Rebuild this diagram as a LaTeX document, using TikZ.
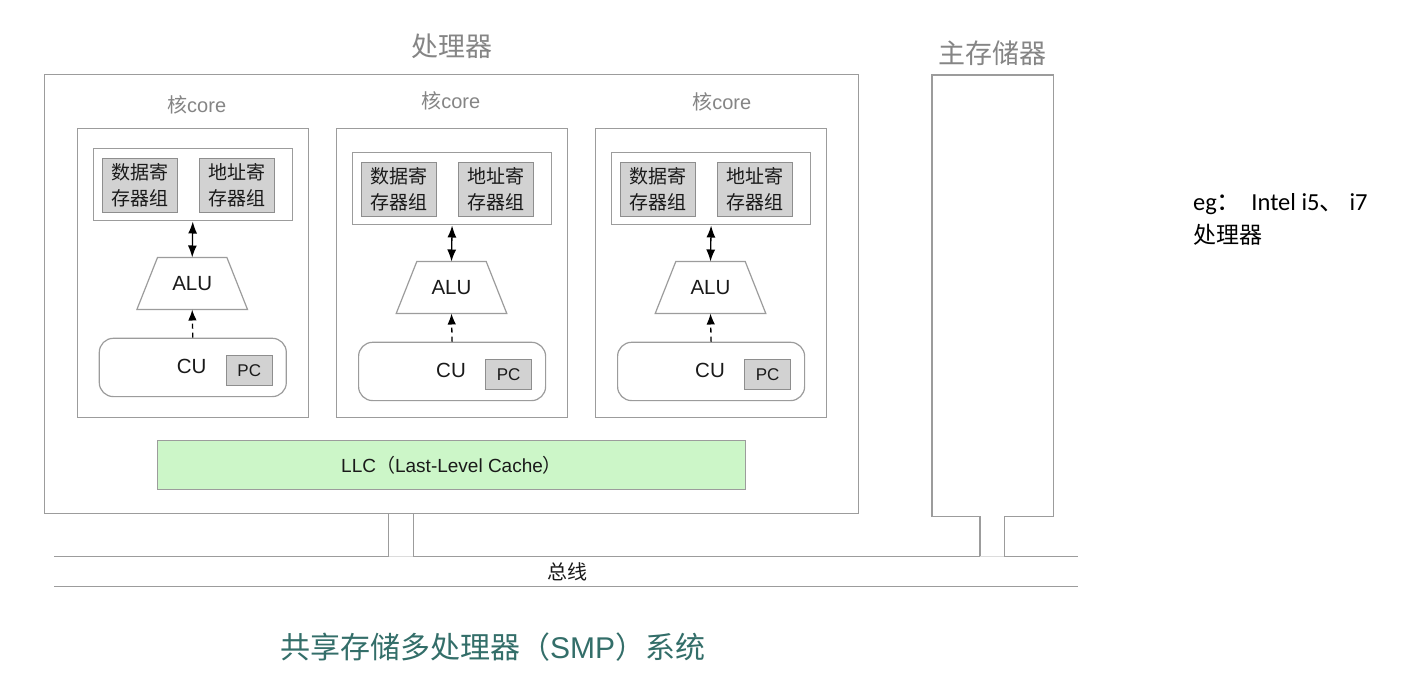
\documentclass[tikz,border=0pt]{standalone}
\usepackage{fontspec}
\setmainfont{Liberation Sans}
\newfontfamily\cjk{Noto Sans CJK SC}
\newfontfamily\calfont{Carlito}
\usetikzlibrary{arrows.meta}
\definecolor{linegray}{HTML}{9C9C9C}
\definecolor{labelgray}{HTML}{858585}
\definecolor{regfill}{HTML}{D2D2D2}
\definecolor{regline}{HTML}{8E8E8E}
\definecolor{llcfill}{HTML}{CCF6C8}
\definecolor{titlecol}{HTML}{336E69}
\definecolor{txt}{HTML}{1A1A1A}
\tikzset{
  box/.style={draw=linegray, line width=1.2pt},
  outerbox/.style={box, fill=white, inner sep=0pt, anchor=north west},
  regbox/.style={draw=regline, line width=1.2pt, fill=regfill, inner sep=0pt, anchor=north west,
    align=center, text=txt, font=\cjk\fontsize{19pt}{26pt}\selectfont},
  pcbox/.style={draw=regline, line width=1.2pt, fill=regfill, inner sep=0pt, anchor=north west,
    text=txt, font=\fontsize{17pt}{20pt}\selectfont},
  alutext/.style={inner sep=0pt, minimum height=51.6pt, minimum width=70pt,
    text=txt, font=\fontsize{20.5pt}{24pt}\selectfont},
  cubox/.style={box, rounded corners=14pt, inner sep=0pt, anchor=north west},
  unitlbl/.style={text=txt, font=\fontsize{20.5pt}{24pt}\selectfont},
  corelbl/.style={text=labelgray, font=\fontsize{20pt}{24pt}\selectfont},
  biglbl/.style={text=labelgray, font=\cjk\fontsize{27pt}{30pt}\selectfont},
  biarrow/.style={line width=1.3pt, {Latex[length=12pt,width=9pt]}-{Latex[length=12pt,width=9pt]}},
  dasharrow/.style={line width=1.3pt, dash pattern=on 5pt off 4pt, -{Latex[length=11pt,width=8.5pt]}},
  faint/.style={draw=linegray!35, line width=1pt},
}
\newcommand{\corebox}[5]{%
  \node[outerbox, minimum width=231pt, minimum height=288.5pt] (#1) at (#2,128.3) {};
  \node[corelbl] (#1-lbl) at (#4,#5) {{\cjk 核}core};
  \node[outerbox, minimum width=199pt, minimum height=72.6pt] (#1-grp) at ({#2+16},{151.7+#3}) {};
  \node[regbox, minimum width=75pt, minimum height=54pt] (#1-data) at ({#2+25},{161.7+#3}) {数据寄\\存器组};
  \node[regbox, minimum width=75pt, minimum height=54pt] (#1-addr) at ({#2+122},{161.7+#3}) {地址寄\\存器组};
  \node[alutext] (#1-alu) at ({#2+115.5},{287.5+#3}) {ALU};
  \draw[box] ([xshift=-34.7pt]#1-alu.north) -- ([xshift=34.7pt]#1-alu.north)
    -- ([xshift=55.3pt]#1-alu.south) -- ([xshift=-55.3pt]#1-alu.south) -- cycle;
  \node[cubox, minimum width=187pt, minimum height=58.3pt] (#1-cu) at ({#2+22},{341.7+#3}) {};
  \node[unitlbl] (#1-cut) at ({#2+115},{370+#3}) {CU};
  \node[pcbox, minimum width=46pt, minimum height=30pt] (#1-pc) at ({#2+149},{359+#3}) {PC};
  \draw[biarrow] (#1-grp.south) -- (#1-alu.north);
  \draw[dasharrow] (#1-cu.north) -- (#1-alu.south);
}
\begin{document}
\begin{tikzpicture}[x=1pt,y=-1pt]
\useasboundingbox[fill=white] (0,0) rectangle (1420,684);

% processor
\node[outerbox, minimum width=814pt, minimum height=439pt] (proc) at (44,74) {};
\node[biglbl] (proclbl) at (452,46) {处理器};

\corebox{c1}{76.7}{-4}{196.7}{105}
\corebox{c2}{336}{0}{450.7}{101}
\corebox{c3}{595}{0}{721.7}{101.7}

\node[box, fill=llcfill, anchor=north west, inner sep=0pt, minimum width=588pt, minimum height=49pt,
  text=txt, font=\fontsize{19pt}{22pt}\selectfont] (llc) at (157,440)
  {LLC{\cjk （}Last-Level Cache{\cjk ）}};

% memory
\node[inner sep=0pt, anchor=north west, minimum width=121pt, minimum height=440.7pt] (mem) at (932,75) {};
\node[biglbl] (memlbl) at (992.5,53) {主存储器};

% bus
\coordinate (busL) at (54,556.7);
\coordinate (busR) at (1078,556.7);
\coordinate (busBL) at (54,586.7);
\coordinate (busBR) at (1078,586.7);
\coordinate (pj1) at (388.7,556.7);
\coordinate (pj2) at (413.3,556.7);
\coordinate (mj1) at (980,556.7);
\coordinate (mj2) at (1004.3,556.7);

\draw[box] (mj1 |- mem.south) -- (mem.south west) -- (mem.north west) -- (mem.north east)
  -- (mem.south east) -- (mj2 |- mem.south);
\draw[box] (pj1 |- proc.south) -- (pj1);
\draw[box] (pj2 |- proc.south) -- (pj2);
\draw[box] (mj1 |- mem.south) -- (mj1);
\draw[box] (mj2 |- mem.south) -- (mj2);
\draw[box] (busL) -- (pj1);
\draw[box] (pj2) -- (mj1);
\draw[box] (mj2) -- (busR);
\draw[faint] (pj1) -- (pj2);
\draw[faint] (mj1) -- (mj2);
\draw[box] (busBL) -- (busBR);
\node[text=txt, font=\cjk\fontsize{20pt}{24pt}\selectfont] (buslbl) at (567,572) {总线};

% title
\node[text=titlecol, font=\cjk\fontsize{30pt}{34pt}\selectfont] (title) at (492.5,647.5)
  {共享存储多处理器（{\rmfamily SMP}）系统};

% note
\node[anchor=base west, inner sep=0pt, font=\calfont\fontsize{24.5pt}{29pt}\selectfont] (eg1) at (1193,210.7)
  {eg{\cjk ：}\hspace{10pt}Intel i5{\cjk 、} i7};
\node[anchor=base west, inner sep=0pt, font=\cjk\fontsize{23pt}{29pt}\selectfont] (eg2) at (1193,243.5)
  {处理器};
\end{tikzpicture}
\end{document}
